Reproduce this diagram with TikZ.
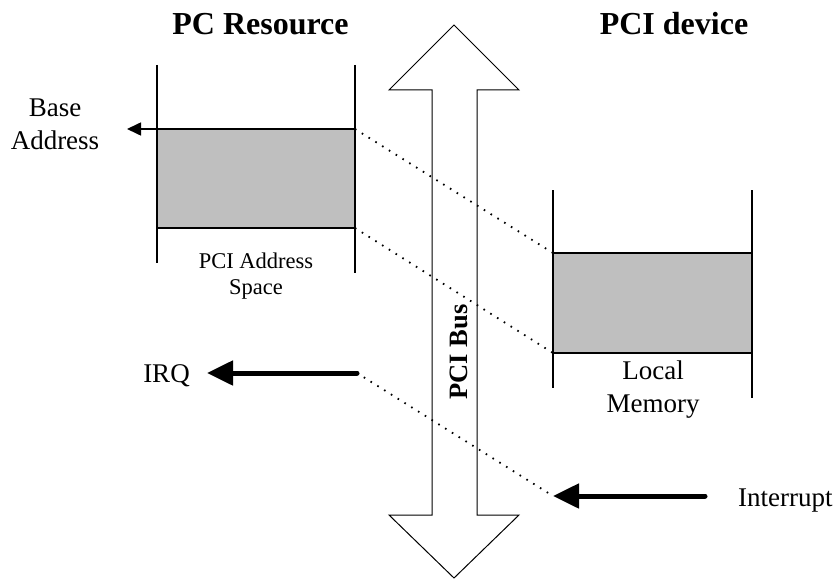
\documentclass[tikz,border=0pt]{standalone}
\usepackage{fontspec}
\setmainfont{Liberation Serif}
\usetikzlibrary{arrows.meta}

\tikzset{
  memblock/.style={draw=black, line width=1.6pt, fill=black!25, inner sep=0pt, outer sep=0pt},
  rail/.style={line width=1.6pt},
  busarrow/.style={draw=black, line width=1pt, fill=white, line join=miter},
  mapline/.style={line width=1.8pt, dash pattern=on 1.6pt off 6.4pt},
  thinptr/.style={line width=1.6pt, -{Triangle[length=14pt,width=13pt]}},
  fatptr/.style={line width=5pt, line cap=round, -{Triangle[length=26pt,width=24pt]}},
  heading/.style={font=\fontsize{32}{38}\selectfont\bfseries, anchor=base},
  label/.style={font=\fontsize{27}{33}\selectfont, align=center},
  smalllabel/.style={font=\fontsize{22.5}{26}\selectfont, align=center}
}

\begin{document}
\begin{tikzpicture}[x=1pt, y=-1pt]
  \useasboundingbox (0,0) rectangle (837,580);

  % headings
  \node[heading] (hpc)  at (260.5,35) {PC Resource};
  \node[heading] (hdev) at (674,35)   {PCI device};

  % the PCI bus, a double-headed block arrow
  \draw[busarrow] (454,25) -- (519,90) -- (477,90) -- (477,515) -- (519,515)
    -- (454,578) -- (389,515) -- (432,515) -- (432,90) -- (389,90) -- cycle;
  \node[font=\fontsize{26.5}{30}\selectfont\bfseries, rotate=90] (bus) at (459,352) {PCI Bus};

  % PC address space
  \draw[rail] (157,65) -- (157,263);
  \draw[rail] (355,65) -- (355,273);
  \node[memblock, minimum width=198pt, minimum height=99pt] (pcmem) at (256,178.5) {};
  \node[smalllabel, anchor=north] (pcname) at (256,249) {PCI Address\\Space};

  % device local memory
  \draw[rail] (553,190) -- (553,388);
  \draw[rail] (752,190) -- (752,398);
  \node[memblock, minimum width=199pt, minimum height=100pt] (devmem) at (652.5,303) {};
  \node[label, anchor=north] (devname) at (653,357) {Local\\Memory};

  % base address pointer
  \coordinate (baseend) at (127,129);
  \draw[thinptr] (pcmem.north west) -- (baseend);
  \node[label] (basename) at (55,124) {Base\\Address};

  % interrupt path
  \coordinate (irqtail) at (357,373);
  \coordinate (irqtip)  at (207,373);
  \coordinate (inttail) at (705,496);
  \coordinate (inttip)  at (553,496);
  \draw[fatptr] (irqtail) -- (irqtip);
  \draw[fatptr] (inttail) -- (inttip);
  \node[font=\fontsize{27}{33}\selectfont, anchor=base] (irq) at (166.5,382) {IRQ};
  \node[font=\fontsize{27}{33}\selectfont, anchor=base west, inner sep=0pt] (intr) at (738,506) {Interrupt};

  % address and interrupt mappings across the bus
  \draw[mapline] (pcmem.north east) -- (devmem.north west);
  \draw[mapline] (pcmem.south east) -- (devmem.south west);
  \draw[mapline] (irqtail) -- (inttip);
\end{tikzpicture}
\end{document}
